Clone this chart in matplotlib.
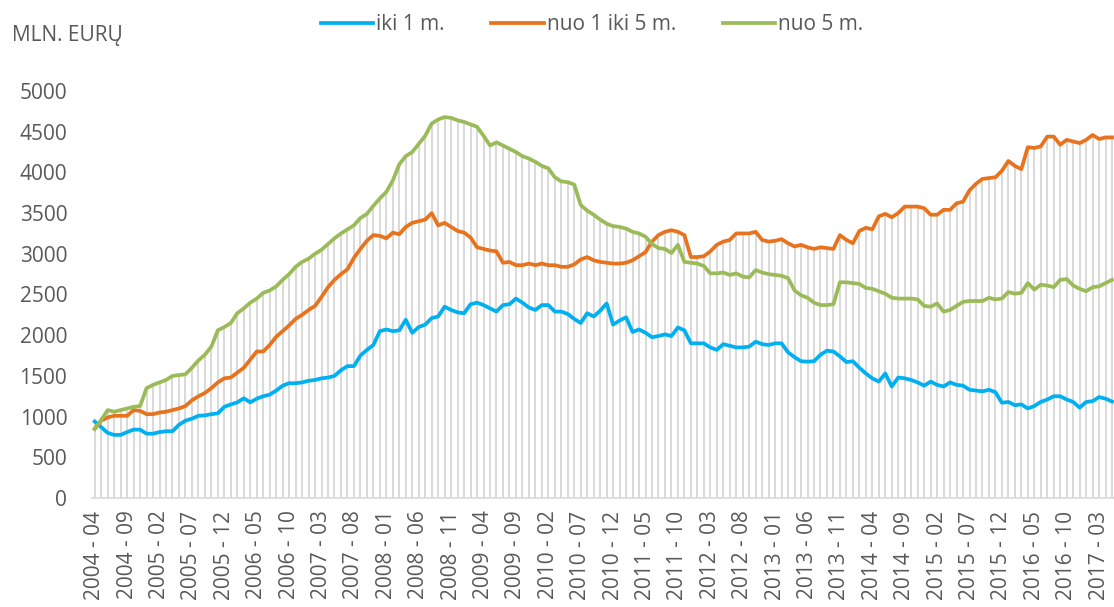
import matplotlib
matplotlib.use("Agg")
import matplotlib.pyplot as plt
import numpy as np

start_year, start_month = 2004, 4

iki_1 = [940, 870, 800, 775, 775, 810, 840, 840, 790, 790, 810, 820, 820, 900, 950, 975, 1010, 1015, 1030, 1040,
         1120, 1150, 1175, 1225, 1175, 1220, 1250, 1270, 1320, 1380, 1410, 1410, 1420, 1440, 1450, 1470, 1480, 1500, 1570, 1620,
         1620, 1750, 1820, 1880, 2050, 2070, 2050, 2060, 2190, 2030, 2100, 2130, 2210, 2230, 2350, 2310, 2280, 2270, 2380, 2400,
         2370, 2330, 2290, 2370, 2380, 2450, 2400, 2340, 2310, 2370, 2370, 2290, 2290, 2260, 2200, 2150, 2270, 2230, 2300, 2390,
         2130, 2180, 2220, 2040, 2070, 2030, 1975, 1990, 2010, 1990, 2095, 2060, 1900, 1900, 1900, 1850, 1820, 1890, 1870, 1850,
         1850, 1860, 1920, 1890, 1880, 1900, 1900, 1790, 1730, 1680, 1675, 1680, 1760, 1810, 1800, 1740, 1670, 1680, 1600, 1530,
         1470, 1430, 1530, 1370, 1480, 1470, 1450, 1420, 1380, 1430, 1390, 1370, 1420, 1390, 1380, 1330, 1320, 1310, 1330, 1300,
         1170, 1180, 1140, 1150, 1100, 1130, 1180, 1210, 1250, 1250, 1210, 1180, 1110, 1180, 1190, 1240, 1220, 1185]

nuo_1_iki_5 = [850, 950, 990, 1010, 1010, 1010, 1080, 1070, 1030, 1030, 1050, 1060, 1080, 1100, 1130, 1200, 1250, 1290, 1350, 1420,
               1470, 1480, 1540, 1600, 1700, 1800, 1800, 1880, 1980, 2050, 2120, 2200, 2250, 2310, 2360, 2470, 2590, 2680, 2750, 2810,
               2950, 3060, 3160, 3230, 3220, 3190, 3260, 3240, 3330, 3380, 3400, 3420, 3500, 3350, 3380, 3330, 3280, 3260, 3200, 3080,
               3060, 3040, 3030, 2890, 2900, 2860, 2860, 2880, 2860, 2880, 2860, 2860, 2840, 2840, 2870, 2930, 2960, 2920, 2900, 2890,
               2880, 2880, 2890, 2920, 2970, 3020, 3150, 3230, 3270, 3290, 3270, 3230, 2960, 2960, 2970, 3030, 3110, 3150, 3170, 3250,
               3250, 3250, 3270, 3170, 3150, 3160, 3180, 3130, 3090, 3110, 3080, 3060, 3080, 3070, 3060, 3230, 3170, 3130, 3280, 3320,
               3300, 3460, 3490, 3450, 3500, 3580, 3580, 3580, 3560, 3480, 3480, 3540, 3540, 3620, 3640, 3780, 3860, 3920, 3930, 3940,
               4020, 4140, 4080, 4040, 4310, 4300, 4320, 4440, 4440, 4340, 4400, 4380, 4360, 4400, 4460, 4410, 4430, 4430]

nuo_5 = [850, 960, 1080, 1060, 1080, 1100, 1120, 1130, 1350, 1390, 1420, 1450, 1500, 1510, 1520, 1600, 1690, 1760, 1860, 2060,
         2100, 2150, 2270, 2330, 2400, 2450, 2520, 2550, 2600, 2680, 2750, 2840, 2900, 2940, 3000, 3050, 3120, 3190, 3250, 3300,
         3350, 3440, 3490, 3590, 3680, 3760, 3900, 4100, 4200, 4250, 4350, 4450, 4600, 4650, 4680, 4670, 4640, 4620, 4590, 4560,
         4450, 4330, 4370, 4330, 4290, 4250, 4200, 4170, 4130, 4080, 4050, 3940, 3890, 3880, 3850, 3600, 3530, 3480, 3420, 3370,
         3340, 3330, 3310, 3270, 3250, 3210, 3120, 3070, 3060, 3010, 3110, 2900, 2890, 2880, 2850, 2760, 2760, 2770, 2740, 2760,
         2720, 2710, 2800, 2770, 2750, 2740, 2730, 2700, 2550, 2490, 2460, 2400, 2370, 2370, 2380, 2650, 2650, 2640, 2630, 2580,
         2570, 2540, 2510, 2460, 2450, 2450, 2450, 2440, 2360, 2350, 2390, 2290, 2310, 2360, 2410, 2420, 2420, 2420, 2460, 2440,
         2450, 2530, 2510, 2520, 2640, 2560, 2620, 2610, 2590, 2680, 2690, 2610, 2570, 2540, 2590, 2600, 2640, 2680]

series_names = ["iki 1 m.", "nuo 1 iki 5 m.", "nuo 5 m."]
series_colors = ["#00B0F0", "#E8731E", "#9BBB59"]
y_ticks = [0, 500, 1000, 1500, 2000, 2500, 3000, 3500, 4000, 4500, 5000]
y_label = "MLN. EURŲ"

n = len(iki_1)
labels = []
for k in range(n):
    m = start_month - 1 + k
    labels.append(f"{start_year + m // 12} - {m % 12 + 1:02d}")

plt.rcParams['font.family'] = ['Open Sans', 'DejaVu Sans']
FS = 15
fig = plt.figure(figsize=(11.14, 6.07), dpi=100)
W, H = 1114, 607
ax = fig.add_axes([91.5 / W, (H - 498) / H, 1022.5 / W, 407 / H])

x = np.arange(n)
data = [iki_1, nuo_1_iki_5, nuo_5]
top = np.max(np.array(data), axis=0)
ax.vlines(x, 0, top, colors="#D9D9D9", linewidth=1.4, zorder=1)

handles = []
for vals, name, col in zip(data, series_names, series_colors):
    h, = ax.plot(x, vals, color=col, linewidth=2.7, label=name, zorder=3,
                 solid_joinstyle='round', clip_on=False)
    handles.append(h)

ax.set_xlim(-0.5, n - 0.7)
ax.set_ylim(0, 5000)
ax.set_yticks(y_ticks)
ax.set_yticklabels([str(v) for v in y_ticks])
ax.set_xticks(x[::5])
ax.set_xticklabels(labels[::5], rotation=90)
ax.tick_params(axis='both', length=0, labelsize=FS, labelcolor="#595959")
ax.tick_params(axis='y', pad=17.5)
ax.tick_params(axis='x', pad=9)
for s in ['top', 'right', 'left']:
    ax.spines[s].set_visible(False)
ax.spines['bottom'].set_color("#D9D9D9")
ax.spines['bottom'].set_linewidth(1.2)

fig.text(12 / W, 1 - 36 / H, y_label, fontsize=FS, color="#595959", va='center', ha='left')

fig.legend(handles=handles, labels=series_names, loc='center', bbox_to_anchor=(592 / W, 1 - 25 / H),
           ncol=3, frameon=False, fontsize=FS, labelcolor="#595959", handlelength=2.5,
           handletextpad=0.15, columnspacing=2.25)

fig.savefig("out.png", dpi=100)
